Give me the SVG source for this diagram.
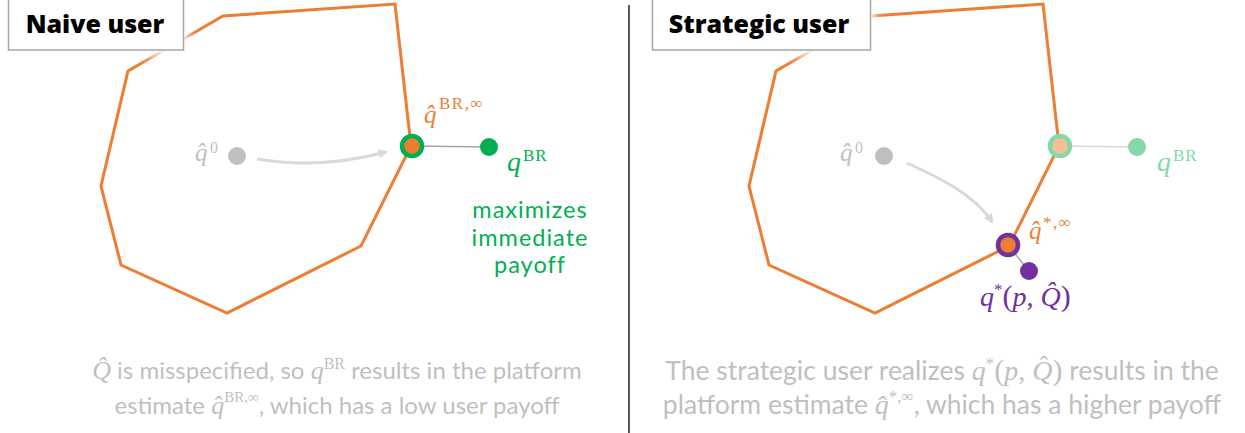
<svg xmlns="http://www.w3.org/2000/svg" width="1245" height="433" viewBox="0 0 1245 433">
<defs>
<style>
.poly{fill:none;stroke:#ed7d31;stroke-width:3;stroke-linejoin:miter}
.box{fill:#fff;stroke:#a6a6a6;stroke-width:1.5}
.title{font-family:"Open Sans",Lato,sans-serif;font-weight:800;font-size:25px;fill:#000;text-anchor:middle}
.m{font-family:"Liberation Serif",serif;font-style:italic}
.r{font-family:"Liberation Serif",serif;font-style:normal}
.cap{font-family:Lato,"Noto Sans",sans-serif;font-size:24px;fill:#bfbfbf;text-anchor:middle}
.cap2{font-family:Lato,"Noto Sans",sans-serif;font-size:26.5px;fill:#bfbfbf;text-anchor:middle}
.green{font-family:Lato,"Noto Sans",sans-serif;font-size:23.5px;letter-spacing:1px;fill:#00b050;text-anchor:middle}
.arrow{fill:none;stroke:#d9d9d9;stroke-width:3}
</style>
<marker id="ah" viewBox="0 0 10 10" refX="8" refY="5" markerWidth="3.2" markerHeight="3.2" orient="auto" markerUnits="strokeWidth">
<path d="M0,0 L10,5 L0,10 z" fill="#d9d9d9"/>
</marker>
<filter id="halo" x="-20%" y="-40%" width="140%" height="180%">
<feGaussianBlur stdDeviation="5"/>
</filter>
</defs>
<rect width="1245" height="433" fill="#fff"/>

<g id="left-panel">
<polygon class="poly" points="223,16 395,4 411,146 361,246 227,313 121,265 101,186 128,71"/>
</g>
<g id="right-panel">
<polygon class="poly" transform="translate(648,0)" points="223,16 395,4 411,146 361,246 227,313 121,265 101,186 128,71"/>
</g>

<g id="connectors">
<path class="arrow" d="M257,159 C300,166 345,163 386,152" marker-end="url(#ah)"/>
<path class="arrow" d="M907,163 C940,178 975,195 992,222" marker-end="url(#ah)"/>
<line x1="412" y1="146" x2="489" y2="147" stroke="#a6a6a6" stroke-width="1.5"/>
<line x1="1060" y1="146" x2="1137" y2="147" stroke="#d9d9d9" stroke-width="1.5"/>
<line x1="1008" y1="245" x2="1029" y2="271" stroke="#a6a6a6" stroke-width="1.5"/>
</g>

<g id="naive-title">
<rect x="3" y="-6" width="185" height="62" fill="#fff" filter="url(#halo)"/>
<rect class="box" x="8.5" y="-2" width="175" height="52"/>
<text class="title" x="95" y="33">Naive user</text>
</g>
<g id="strategic-title">
<rect x="647" y="-6" width="228" height="62" fill="#fff" filter="url(#halo)"/>
<rect class="box" x="652.5" y="-2" width="218" height="52"/>
<text class="title" x="759" y="33">Strategic user</text>
</g>

<g id="divider"><line x1="629" y1="5" x2="629" y2="433" stroke="#595959" stroke-width="2"/></g>

<g id="q0-left">
<circle cx="237" cy="156" r="9" fill="#bfbfbf"/>
<text class="m" x="195" y="161" font-size="25" fill="#bfbfbf">q&#x302;</text>
<text class="r" x="210" y="153" font-size="16" fill="#bfbfbf">0</text>
</g>
<g id="qbr-inf-left">
<circle cx="412" cy="146" r="10" fill="#ed7d31" stroke="#00b050" stroke-width="4.5"/>
<text class="m" x="424" y="123" font-size="25" fill="#ed7d31">q&#x302;</text>
<text class="r" x="439" y="109" font-size="17" letter-spacing="1.5" fill="#ed7d31">BR,∞</text>
</g>
<g id="qbr-left">
<circle cx="489" cy="147" r="9" fill="#00b050"/>
<text class="m" x="507" y="171" font-size="28" fill="#00b050">q</text>
<text class="r" x="523" y="161" font-size="17" letter-spacing="1" fill="#00b050">BR</text>
<text class="green" x="530" y="218">maximizes</text>
<text class="green" x="530" y="246">immediate</text>
<text class="green" x="530" y="273">payoff</text>
</g>

<g id="q0-right">
<circle cx="884" cy="156" r="9" fill="#bfbfbf"/>
<text class="m" x="840" y="161" font-size="25" fill="#bfbfbf">q&#x302;</text>
<text class="r" x="855" y="153" font-size="16" fill="#bfbfbf">0</text>
</g>
<g id="qbr-inf-right">
<circle cx="1060" cy="146" r="10" fill="#f6be98" stroke="#82d8a8" stroke-width="4.5"/>
</g>
<g id="qbr-right">
<circle cx="1137" cy="147" r="9" fill="#82d8a8"/>
<text class="m" x="1157" y="171" font-size="28" fill="#82d8a8">q</text>
<text class="r" x="1173" y="161" font-size="17" letter-spacing="1" fill="#82d8a8">BR</text>
</g>
<g id="qstar-inf-right">
<circle cx="1008" cy="245" r="10" fill="#ed7d31" stroke="#7030a0" stroke-width="4.5"/>
<text class="m" x="1029" y="239" font-size="25" fill="#ed7d31">q&#x302;</text>
<text class="r" x="1043" y="228" font-size="17" letter-spacing="1.5" fill="#ed7d31">*,∞</text>
</g>
<g id="qstar-right">
<circle cx="1029" cy="271" r="9" fill="#7030a0"/>
<text x="980" y="306" font-size="28" fill="#7030a0" class="r"><tspan class="m">q</tspan><tspan font-size="17" dy="-11">*</tspan><tspan font-size="30" dy="11">(</tspan><tspan class="m">p</tspan>, <tspan class="m">Q&#x302;</tspan><tspan font-size="30">)</tspan></text>
</g>

<g id="captions">
<text class="cap" x="337" y="379"><tspan class="m" font-size="26">Q&#x302;</tspan> is misspecified, so <tspan class="m" font-size="26">q</tspan><tspan class="r" font-size="16" dy="-10">BR</tspan><tspan dy="10"> results in the platform</tspan></text>
<text class="cap" x="337" y="414">estimate <tspan class="m" font-size="26">q&#x302;</tspan><tspan class="r" font-size="15" dy="-12">BR,∞</tspan><tspan dy="12">, which has a low user payoff</tspan></text>
<text class="cap2" x="942" y="380">The strategic user realizes <tspan class="m" font-size="28">q</tspan><tspan class="r" font-size="17" dy="-11">*</tspan><tspan class="r" font-size="30" dy="11">(</tspan><tspan class="m" font-size="28">p</tspan><tspan class="r" font-size="28">, </tspan><tspan class="m" font-size="28">Q&#x302;</tspan><tspan class="r" font-size="30">)</tspan> results in the</text>
<text class="cap2" x="942" y="414">platform estimate <tspan class="m" font-size="28">q&#x302;</tspan><tspan class="r" font-size="17" dy="-12">*,∞</tspan><tspan dy="12">, which has a higher payoff</tspan></text>
</g>
</svg>
